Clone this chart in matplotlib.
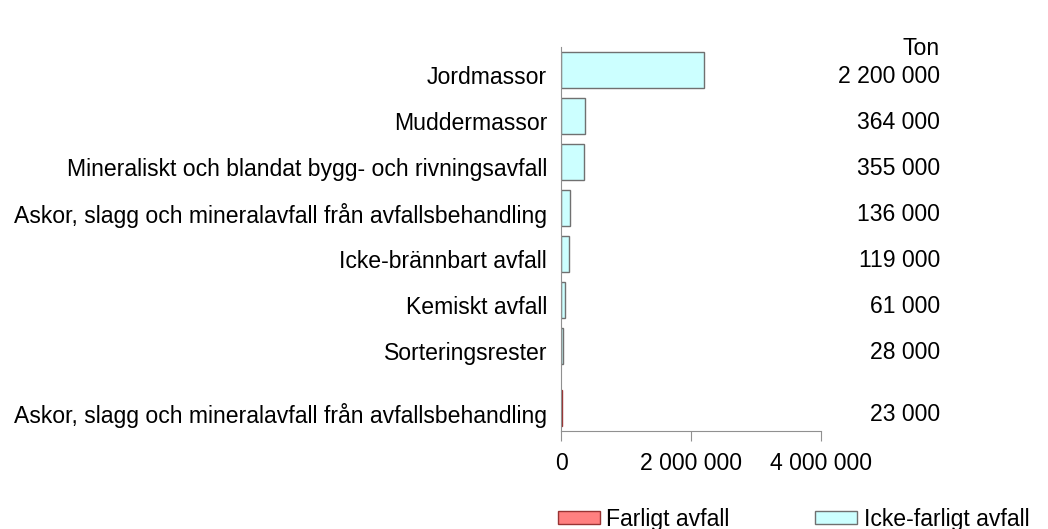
import matplotlib
matplotlib.use("Agg")
import matplotlib.pyplot as plt
from matplotlib.patches import Patch
from matplotlib.ticker import FuncFormatter
from matplotlib.transforms import ScaledTranslation, blended_transform_factory

plt.rcParams['font.family'] = ['Liberation Sans', 'DejaVu Sans']

# data
categories = ["Jordmassor", "Muddermassor",
              "Mineraliskt och blandat bygg- och rivningsavfall",
              "Askor, slagg och mineralavfall från avfallsbehandling",
              "Icke-brännbart avfall", "Kemiskt avfall", "Sorteringsrester",
              "Askor, slagg och mineralavfall från avfallsbehandling"]
values = [2200000, 364000, 355000, 136000, 119000, 61000, 28000, 23000]
value_labels = ["2 200 000", "364 000", "355 000", "136 000", "119 000",
                "61 000", "28 000", "23 000"]
groups = ["icke", "icke", "icke", "icke", "icke", "icke", "icke", "farligt"]
x_ticks = [0, 2000000, 4000000]

positions = [0.5, 1.5, 2.5, 3.5, 4.5, 5.5, 6.5, 7.85]
colors = {"farligt": "#ff8080", "icke": "#ccffff"}
edges = {"farligt": "#993333", "icke": "#707070"}
fs = 16.6

fig = plt.figure(figsize=(10.48, 5.29), dpi=100)
ax = fig.add_axes([561 / 1048, 1 - 431 / 529, (821 - 561) / 1048, (431 - 47) / 529])

ax.barh(positions, values, height=0.78,
        color=[colors[g] for g in groups],
        edgecolor=[edges[g] for g in groups], linewidth=1)

ax.set_ylim(8.35, 0)
ax.set_xlim(0, 4000000)
ax.set_xticks(x_ticks)
ax.xaxis.set_major_formatter(FuncFormatter(lambda v, p: f"{v:,.0f}".replace(",", " ")))
ax.set_yticks(positions)
ax.set_yticklabels(categories)

for side in ["top", "right"]:
    ax.spines[side].set_visible(False)
for side in ["left", "bottom"]:
    ax.spines[side].set_color("#909090")
ax.tick_params(axis="x", length=7, color="#909090", labelsize=fs, pad=8)
ax.tick_params(axis="y", length=0, labelsize=fs, pad=10)

# tick labels sit a little below the bar centres
off = ScaledTranslation(0, -5 / 100, fig.dpi_scale_trans)
for lab in ax.get_yticklabels():
    lab.set_transform(lab.get_transform() + off)

# value column on the right
tr = blended_transform_factory(ax.transAxes, ax.transData)
xr = (940 - 561) / (821 - 561)
for p, t in zip(positions, value_labels):
    ax.text(xr, p + 0.15, t, transform=tr, ha="right", va="center", fontsize=fs)
ax.text(xr, 0.03, "Ton", transform=tr, ha="right", va="center", fontsize=fs)

handles = [Patch(facecolor=colors["farligt"], edgecolor="#993333", label="Farligt avfall"),
           Patch(facecolor=colors["icke"], edgecolor="#707070", label="Icke-farligt avfall")]
fig.legend(handles=handles, loc="upper left", bbox_to_anchor=(558 / 1048, 1 - 508 / 529),
           ncol=2, frameon=False, fontsize=fs, handlelength=1.8, handleheight=0.5,
           handletextpad=0.3, columnspacing=3.7, borderaxespad=0, borderpad=0)

fig.savefig("out.png", dpi=100)
